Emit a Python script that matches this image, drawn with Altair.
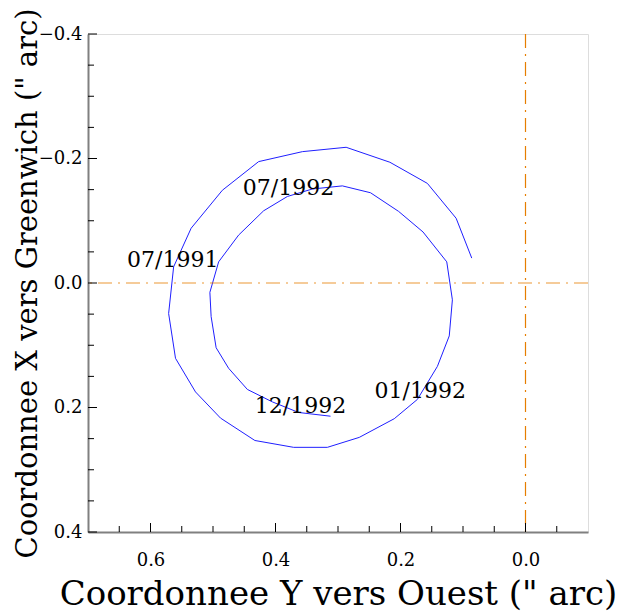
import altair as alt
import pandas as pd

# Polar motion path (Y vers Ouest, X vers Greenwich), in arc-seconds
path_y_ouest = [0.086, 0.111, 0.157, 0.217, 0.287, 0.357, 0.427, 0.485, 0.535, 0.563,
                0.571, 0.560, 0.528, 0.488, 0.433, 0.371, 0.317, 0.266, 0.210, 0.173,
                0.141, 0.122, 0.117, 0.126, 0.164, 0.203, 0.248, 0.293, 0.341, 0.381,
                0.419, 0.459, 0.491, 0.505, 0.503, 0.495, 0.475, 0.445, 0.405, 0.363, 0.312]
path_x_greenwich = [-0.040, -0.104, -0.160, -0.194, -0.218, -0.211, -0.195, -0.149, -0.088, -0.026,
                    0.049, 0.121, 0.175, 0.217, 0.253, 0.264, 0.264, 0.248, 0.218, 0.187,
                    0.134, 0.085, 0.027, -0.034, -0.082, -0.115, -0.145, -0.156, -0.151, -0.139,
                    -0.116, -0.077, -0.034, 0.015, 0.054, 0.104, 0.137, 0.171, 0.191, 0.208, 0.214]

# Date annotations
label_text = ["07/1991", "07/1992", "01/1992", "12/1992"]
label_y_ouest = [0.5645, 0.3793, 0.1684, 0.3601]
label_x_greenwich = [-0.0257, -0.1414, 0.1847, 0.2088]

# Axis ticks
x_major = [0.6, 0.4, 0.2, 0.0]
x_minor = [0.65, 0.55, 0.5, 0.45, 0.35, 0.3, 0.25, 0.15, 0.1, 0.05, -0.05]
y_major = [-0.4, -0.2, 0.0, 0.2, 0.4]
y_minor = [-0.35, -0.3, -0.25, -0.15, -0.1, -0.05, 0.05, 0.1, 0.15, 0.25, 0.3, 0.35]
ref_zero = [0.0]

W, H = 500, 498
FONT = "DejaVu Serif"
ORANGE = "#e67e00"

xscale = alt.Scale(domain=[-0.1, 0.7], reverse=True, nice=False, zero=False)
yscale = alt.Scale(domain=[-0.4, 0.4], reverse=True, nice=False, zero=False)

path_df = pd.DataFrame({"i": range(len(path_y_ouest)), "yo": path_y_ouest, "xg": path_x_greenwich})
lab_df = pd.DataFrame({"t": label_text, "yo": label_y_ouest, "xg": label_x_greenwich})

xaxis = alt.Axis(values=x_major, format=".1f", title="Coordonnee Y vers Ouest (\" arc)",
                 ticks=False, grid=False, domainColor="#808080", domainWidth=2,
                 labelFont=FONT, labelFontSize=18, labelColor="black", labelPadding=19,
                 labelFlush=False,
                 titleFont=FONT, titleFontSize=34, titleFontWeight="normal", titleColor="black",
                 titleBaseline="alphabetic", titleX=W / 2, titleY=72)
yaxis = alt.Axis(values=y_major, format=".1f", title="Coordonnee X vers Greenwich (\" arc)",
                 ticks=False, grid=False, domainColor="#808080", domainWidth=2,
                 labelFont=FONT, labelFontSize=18, labelColor="black", labelPadding=6,
                 labelFlush=False,
                 titleFont=FONT, titleFontSize=29, titleFontWeight="normal", titleColor="black",
                 titleBaseline="alphabetic", titleX=-52, titleY=H / 2, titleAngle=-90)


def X(field):
    return alt.X(field, scale=xscale, axis=xaxis)


def Y(field):
    return alt.Y(field, scale=yscale, axis=yaxis)


line = alt.Chart(path_df).mark_line(color="#1f1fff", strokeWidth=1).encode(
    x=X("yo:Q"), y=Y("xg:Q"), order="i:Q",
)

zero_df = pd.DataFrame({"v": ref_zero})
vline = alt.Chart(zero_df).mark_rule(color=ORANGE, strokeWidth=1.2, strokeDash=[14, 6, 2, 6]).encode(
    x=X("v:Q")
)
hline = alt.Chart(zero_df).mark_rule(color=ORANGE, strokeWidth=1, strokeDash=[14, 6, 2, 6],
                                     opacity=0.8).encode(
    y=Y("v:Q")
)

xmaj = alt.Chart(pd.DataFrame({"v": x_major})).mark_rule(color="black", strokeWidth=1).encode(
    x=X("v:Q"), y=alt.value(H), y2=alt.value(H - 9))
xmin = alt.Chart(pd.DataFrame({"v": x_minor})).mark_rule(color="black", strokeWidth=1).encode(
    x=X("v:Q"), y=alt.value(H), y2=alt.value(H - 6))
ymaj = alt.Chart(pd.DataFrame({"v": y_major})).mark_rule(color="black", strokeWidth=1).encode(
    y=Y("v:Q"), x=alt.value(0), x2=alt.value(9))
ymin = alt.Chart(pd.DataFrame({"v": y_minor})).mark_rule(color="black", strokeWidth=1).encode(
    y=Y("v:Q"), x=alt.value(0), x2=alt.value(6))

labels = alt.Chart(lab_df).mark_text(font=FONT, fontSize=22, color="black",
                                     align="center", baseline="alphabetic").encode(
    x=X("yo:Q"), y=Y("xg:Q"), text="t:N",
)

chart = alt.layer(line, vline, hline, xmaj, xmin, ymaj, ymin, labels).properties(
    width=W, height=H,
    autosize=alt.AutoSizeParams(type="none"),
    padding={"left": 80, "top": 26, "right": 36, "bottom": 80},
).configure_view(strokeWidth=0, stroke="transparent").configure(background="white")

chart.save("out.html", embed_options={"renderer": "svg", "actions": False})
